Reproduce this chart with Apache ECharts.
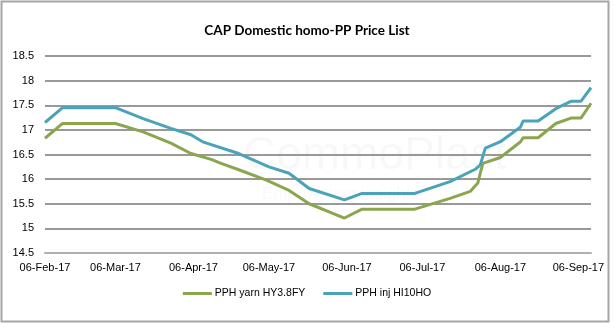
<!DOCTYPE html>
<html><head><meta charset="utf-8">
<script src="https://cdn.jsdelivr.net/npm/echarts@6/dist/echarts.min.js"></script>
<style>html,body{margin:0;padding:0;background:#fff}#c{width:614px;height:328px}</style>
</head><body><div id="c"></div>
<script>
// Data
const yarnDates = ['2017-02-06','2017-02-13','2017-03-06','2017-03-17','2017-03-28','2017-04-05','2017-04-13','2017-04-17','2017-04-24','2017-05-05','2017-05-14','2017-05-22','2017-06-05','2017-06-12','2017-07-03','2017-07-17','2017-07-25','2017-07-28','2017-07-30','2017-08-06','2017-08-14','2017-08-15','2017-08-21','2017-08-28','2017-09-03','2017-09-07','2017-09-11'];
const yarnValues = [16.83,17.13,17.13,16.96,16.73,16.52,16.40,16.32,16.19,15.98,15.77,15.50,15.21,15.39,15.39,15.61,15.75,15.92,16.32,16.44,16.76,16.84,16.84,17.13,17.24,17.24,17.54];
const injDates = ['2017-02-06','2017-02-13','2017-03-06','2017-03-17','2017-03-28','2017-04-05','2017-04-10','2017-04-24','2017-05-06','2017-05-14','2017-05-22','2017-06-05','2017-06-12','2017-07-03','2017-07-17','2017-07-27','2017-07-29','2017-07-31','2017-08-06','2017-08-14','2017-08-15','2017-08-21','2017-08-28','2017-09-03','2017-09-07','2017-09-11'];
const injValues = [17.15,17.45,17.45,17.23,17.03,16.90,16.75,16.52,16.25,16.12,15.81,15.58,15.71,15.71,15.95,16.20,16.29,16.63,16.76,17.06,17.18,17.18,17.43,17.58,17.58,17.86];
const tickDates = ['2017-02-06','2017-03-06','2017-04-06','2017-05-06','2017-06-06','2017-07-06','2017-08-06','2017-09-06'];
const seriesNames = ['PPH yarn HY3.8FY','PPH inj HI10HO'];
const titleText = 'CAP Domestic homo-PP Price List';
const months = ['Jan','Feb','Mar','Apr','May','Jun','Jul','Aug','Sep','Oct','Nov','Dec'];

function ts(s){const p=s.split('-').map(Number);return Date.UTC(p[0],p[1]-1,p[2]);}
function fmt(v){const d=new Date(v);const dd=('0'+d.getUTCDate()).slice(-2);return dd+'-'+months[d.getUTCMonth()]+'-'+String(d.getUTCFullYear()).slice(-2);}

const chart = echarts.init(document.getElementById('c'), null, {renderer:'canvas'});
const font = 'Liberation Sans, Arial, sans-serif';
chart.setOption({
  animation:false,
  backgroundColor:'#fff',
  textStyle:{fontFamily:font},
  title:{text:titleText,left:'center',top:19,textStyle:{fontFamily:'Lato, Liberation Sans, sans-serif',fontSize:13.5,fontWeight:'bold',color:'#000'}},
  graphic:[
    {type:'rect',shape:{x:1.5,y:1.5,width:607,height:320},style:{fill:'none',stroke:'#a6a6a6',lineWidth:2},silent:true,z:-1},
    {type:'text',left:243,top:133,style:{text:'CommoPlast',font:'normal 46px '+font,fill:'rgba(0,0,0,0.028)'},silent:true,z:-1},
    {type:'text',left:262,top:186,style:{text:'Empowering insights',font:'normal 17px '+font,fill:'rgba(0,0,0,0.028)'},silent:true,z:-1}
  ],
  grid:{left:45,right:23,top:56,bottom:75,containLabel:false},
  legend:{
    data:seriesNames,bottom:24,left:'center',icon:'rect',itemWidth:29,itemHeight:3,itemGap:18,
    textStyle:{fontFamily:font,fontSize:10.5,color:'#000',padding:[0,0,0,-2]}
  },
  xAxis:{
    type:'value',min:ts(tickDates[0]),max:ts(yarnDates[yarnDates.length-1]),
    axisLine:{show:true,lineStyle:{color:'#b0b0b0',width:2}},
    axisTick:{show:false},splitLine:{show:false},
    axisLabel:{customValues:tickDates.map(ts),formatter:v=>fmt(v),fontFamily:font,fontSize:11,color:'#000',margin:9,showMinLabel:true,showMaxLabel:true,hideOverlap:false}
  },
  yAxis:{
    type:'value',min:14.5,max:18.5,interval:0.5,
    axisLine:{show:false},axisTick:{show:false},
    axisLabel:{fontFamily:font,fontSize:11,color:'#000',margin:11},
    splitLine:{lineStyle:{color:'#999',width:2}}
  },
  series:[
    {name:seriesNames[0],type:'line',showSymbol:false,color:'#8ca650',lineStyle:{width:3,color:'#8ca650'},
     data:yarnDates.map((d,i)=>[ts(d),yarnValues[i]])},
    {name:seriesNames[1],type:'line',showSymbol:false,color:'#4aa3b7',lineStyle:{width:3,color:'#4aa3b7'},
     data:injDates.map((d,i)=>[ts(d),injValues[i]])}
  ]
});
</script></body></html>
